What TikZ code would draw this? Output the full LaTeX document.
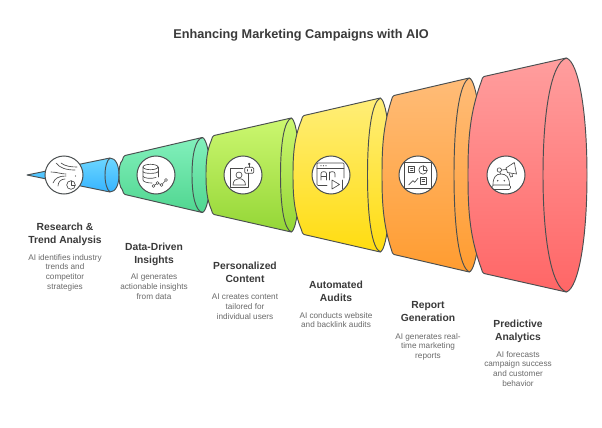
\documentclass[tikz,border=0pt]{standalone}
\usepackage{fontspec}
\setmainfont{Liberation Sans}
\definecolor{edgegray}{HTML}{4A4F50}
\definecolor{ttlgray}{HTML}{3A3A3A}
\definecolor{descgray}{HTML}{6A6A6A}
\definecolor{icongray}{HTML}{4A4A4A}
\definecolor{blueT}{HTML}{6CD6FF}\definecolor{blueB}{HTML}{36B4FF}
\definecolor{greenT}{HTML}{82F0BC}\definecolor{greenB}{HTML}{50D690}
\definecolor{limeT}{HTML}{CCF770}\definecolor{limeB}{HTML}{94D636}
\definecolor{yelT}{HTML}{FFEE78}\definecolor{yelB}{HTML}{FFDC10}
\definecolor{oraT}{HTML}{FFBC78}\definecolor{oraB}{HTML}{FF9C30}
\definecolor{redT}{HTML}{FF9E9E}\definecolor{redB}{HTML}{FF6666}
\tikzset{x=1pt,y=-1pt,
 seg/.style={draw=edgegray,line width=.95pt,line join=round},
 rim/.style={draw=edgegray,line width=.95pt},
 badge/.style={circle,draw=edgegray,fill=white,line width=1pt,minimum size=38pt,inner sep=0pt},
 ttl/.style={align=center,inner sep=0pt,font=\fontsize{10.3}{13}\selectfont\bfseries,text=ttlgray,anchor=north},
 desc/.style={align=center,inner sep=0pt,font=\fontsize{8.2}{9.8}\selectfont,text=descgray,anchor=north},
 ic/.style={draw=icongray,line width=.65pt,line join=round,line cap=round}}
% #1 left x, #2 corner x, #3 half height at corner, #4 ellipse centre x, #5 ry, #6 rx, #7 top colour, #8 bottom colour
\newcommand{\funnelseg}[8]{%
 \path[seg,top color=#7,bottom color=#8]
  (#2-2,175-#3+.5) -- (#4-1,175-#5+.5)
  .. controls (#4,175-#5) and (#4+1,175-#5) .. (#4+1.5,175-#5)
  .. controls (#4+.62*#6,175-.96*#5) and (#4+#6,175-.55*#5) .. (#4+#6,175)
  .. controls (#4+#6,175+.55*#5) and (#4+.62*#6,175+.96*#5) .. (#4+1.5,175+#5)
  .. controls (#4+1,175+#5) and (#4,175+#5) .. (#4-1,175+#5-.5)
  -- (#2-2,175+#3-.5)
  .. controls (#2-3.5,175+#3-1) and (#2-4,175+#3-3) .. (#2-4.5,175+#3-5)
  .. controls (#1+.6,175+.6*#3) and (#1,175+.3*#3) .. (#1,175)
  .. controls (#1,175-.3*#3) and (#1+.6,175-.6*#3) .. (#2-4.5,175-#3+5)
  .. controls (#2-4,175-#3+3) and (#2-3.5,175-#3+1) .. (#2-2,175-#3+.5) -- cycle;
 \draw[rim] (#4+1.5,175-#5)
  .. controls (#4-.62*#6,175-.96*#5) and (#4-#6,175-.55*#5) .. (#4-#6,175)
  .. controls (#4-#6,175+.55*#5) and (#4-.62*#6,175+.96*#5) .. (#4+1.5,175+#5);
}
\begin{document}
\begin{tikzpicture}
\useasboundingbox (0,0) rectangle (602,428);
\fill[white] (0,0) rectangle (602,428);
\node[font=\fontsize{12.7}{15}\selectfont\bfseries,text=ttlgray] (title) at (301,35.5) {Enhancing Marketing Campaigns with AIO};
% funnel
\path[seg,top color=blueT,bottom color=blueB]
 (27,175) -- (110,158) .. controls (116,158) and (119,166) .. (119,175)
 .. controls (119,184) and (116,192) .. (110,192) -- cycle;
\draw[rim] (110,158) .. controls (107,160) and (105,167) .. (105,175) .. controls (105,183) and (107,190) .. (110,192);
\funnelseg{119}{127}{20}{201}{37.5}{9}{greenT}{greenB}
\funnelseg{206}{216}{40}{290}{57}{9.5}{limeT}{limeB}
\funnelseg{293}{306}{60}{379}{77}{11.5}{yelT}{yelB}
\funnelseg{382}{396}{80}{468}{97}{14}{oraT}{oraB}
\funnelseg{468}{486}{99}{565}{117}{22}{redT}{redB}
% badges
\node[badge] (b1) at (64,175) {};
\node[badge] (b2) at (156,175) {};
\node[badge] (b3) at (243,175) {};
\node[badge] (b4) at (331,175) {};
\node[badge] (b5) at (418,175) {};
\node[badge] (b6) at (506,175) {};
% icon 1
\begin{scope}[shift={(b1.center)}]
\draw[ic] (-8,-12) .. controls (-4,-7) and (2,-5) .. (11,-5);
\draw[ic] (-3,-12) .. controls (1,-9) and (6,-8) .. (13,-8);
\draw[ic] (-13,-3) .. controls (-7,-3) and (-3,-1) .. (2,-1);
\draw[ic] (-11,8) .. controls (-9,3) and (-5,1) .. (2,1);
\draw[ic] (-6,11) .. controls (-6,7) and (-3,4) .. (1,4);
\draw[ic] (7,10) circle (4.3);
\draw[ic] (7,6) -- (7,10) -- (11,10);
\fill[icongray] (11.5,1) circle (.6);
\end{scope}
% icon 2
\begin{scope}[shift={(b2.center)}]
\draw[ic] (-5.5,-8) ellipse (7.5 and 2.7);
\draw[ic] (-13,-8) -- (-13,5) .. controls (-13,7) and (-8,8) .. (-4,8);
\draw[ic] (2,-8) -- (2,2);
\draw[ic] (-13,-3.5) .. controls (-13,-1) and (2,-1) .. (2,-3.5);
\draw[ic] (-13,1) .. controls (-13,3.5) and (-4,4) .. (0,2.5);
\draw[ic] (-2.5,11) circle (1.5) (1.5,8) circle (1.5) (5.5,10) circle (1.5) (10,5) circle (1.5);
\draw[ic] (-1.4,10) -- (.5,9) (2.6,8.6) -- (4.5,9.4) (6.5,8.8) -- (9,6.2);
\end{scope}
% icon 3
\begin{scope}[shift={(b3.center)}]
\draw[ic] (0,-6.7) -- (-12.5,-6.7) -- (-12.5,12.3) -- (5,12.3) -- (5,-1.7);
\draw[ic,rounded corners=1.2pt] (1.7,-7.7) rectangle (10.7,-1.7);
\draw[ic] (6.2,-7.7) -- (6.2,-10);
\draw[ic] (6.2,-11) circle (.9);
\draw[ic] (4.2,-5.5) -- (4.2,-3.9) (8.2,-5.5) -- (8.2,-3.9);
\draw[ic] (-4,0) circle (3);
\draw[ic] (-10,10) .. controls (-10,5.5) and (-7,3.6) .. (-4,3.6) .. controls (-1,3.6) and (2.5,5.5) .. (2.5,10) -- cycle;
\end{scope}
% icon 4
\begin{scope}[shift={(b4.center)}]
\draw[ic,rounded corners=1pt] (-4,10.5) -- (-14,10.5) -- (-14,-12) -- (13,-12) -- (13,3);
\draw[ic] (-14,-6.7) -- (13,-6.7);
\fill[icongray] (-10,-9.3) circle (.65) (-7.5,-9.3) circle (.65) (-5,-9.3) circle (.65);
\draw[ic] (-10,5) -- (-10,-1.5) .. controls (-10,-4) and (-4.5,-4) .. (-4.5,-1.5) -- (-4.5,5) (-10,1.5) -- (-4.5,1.5);
\draw[ic] (-1.5,5) -- (-1.5,-3) (-1.5,-1.5) .. controls (-1.5,-4) and (4,-4) .. (4,-1.5) -- (4,2);
\draw[ic] (1,5) -- (1,14) -- (8.5,9.5) -- cycle;
\draw[ic] (11,5) -- (11,14);
\end{scope}
% icon 5
\begin{scope}[shift={(b5.center)}]
\draw[ic] (-14,-13) rectangle (13,13);
\draw[ic] (-9.3,-9) rectangle (-3.3,-2.3);
\draw[ic] (-7.5,-6.8) -- (-5,-6.8) (-7.5,-4.6) -- (-5,-4.6);
\draw[ic] (5,-5) circle (4.2);
\draw[ic] (5,-9.2) -- (5,-5) -- (9.2,-5);
\draw[ic] (-9.3,10) -- (-5,5.7) -- (-3.3,7.3) -- (0,3.3);
\draw[ic] (2.3,2.3) rectangle (8.3,9);
\draw[ic] (4,4.5) -- (6.7,4.5) (4,6.8) -- (6.7,6.8);
\end{scope}
% icon 6
\begin{scope}[shift={(b6.center)}]
\draw[ic] (-13,10) .. controls (-13,2) and (-10,-1) .. (-5,-1) .. controls (0,-1) and (3.5,2) .. (3.5,10);
\draw[ic,rounded corners=1.5pt] (-14,10) rectangle (4.5,14.5);
\fill[icongray] (-8.3,5.7) circle (.8) (-1.7,5.7) circle (.8);
\draw[ic] (-6.7,-5) circle (2.2);
\draw[ic] (-6,-2.8) -- (-5.5,-1);
\draw[ic] (-4.5,-5) -- (0,-5.5);
\draw[ic] (0,-7) -- (8.3,-12.5) -- (10.5,-1) -- (1.5,-2.5) -- cycle;
\draw[ic] (3,-2) -- (4.5,2) -- (6.5,1.5) -- (6,-1.5);
\end{scope}
% labels
\node[ttl] (t1) at (65,223) {Research \&\\Trend Analysis};
\node[desc] (d1) at (65,254) {AI identifies industry\\trends and\\competitor\\strategies};
\node[ttl] (t2) at (154,243) {Data-Driven\\Insights};
\node[desc] (d2) at (154,274) {AI generates\\actionable insights\\from data};
\node[ttl] (t3) at (245,262) {Personalized\\Content};
\node[desc] (d3) at (245,294) {AI creates content\\tailored for\\individual users};
\node[ttl] (t4) at (336,281) {Automated\\Audits};
\node[desc] (d4) at (336,312) {AI conducts website\\and backlink audits};
\node[ttl] (t5) at (428,301) {Report\\Generation};
\node[desc] (d5) at (428,333) {AI generates real-\\time marketing\\reports};
\node[ttl] (t6) at (518,320) {Predictive\\Analytics};
\node[desc] (d6) at (518,351) {AI forecasts\\campaign success\\and customer\\behavior};
\end{tikzpicture}
\end{document}
